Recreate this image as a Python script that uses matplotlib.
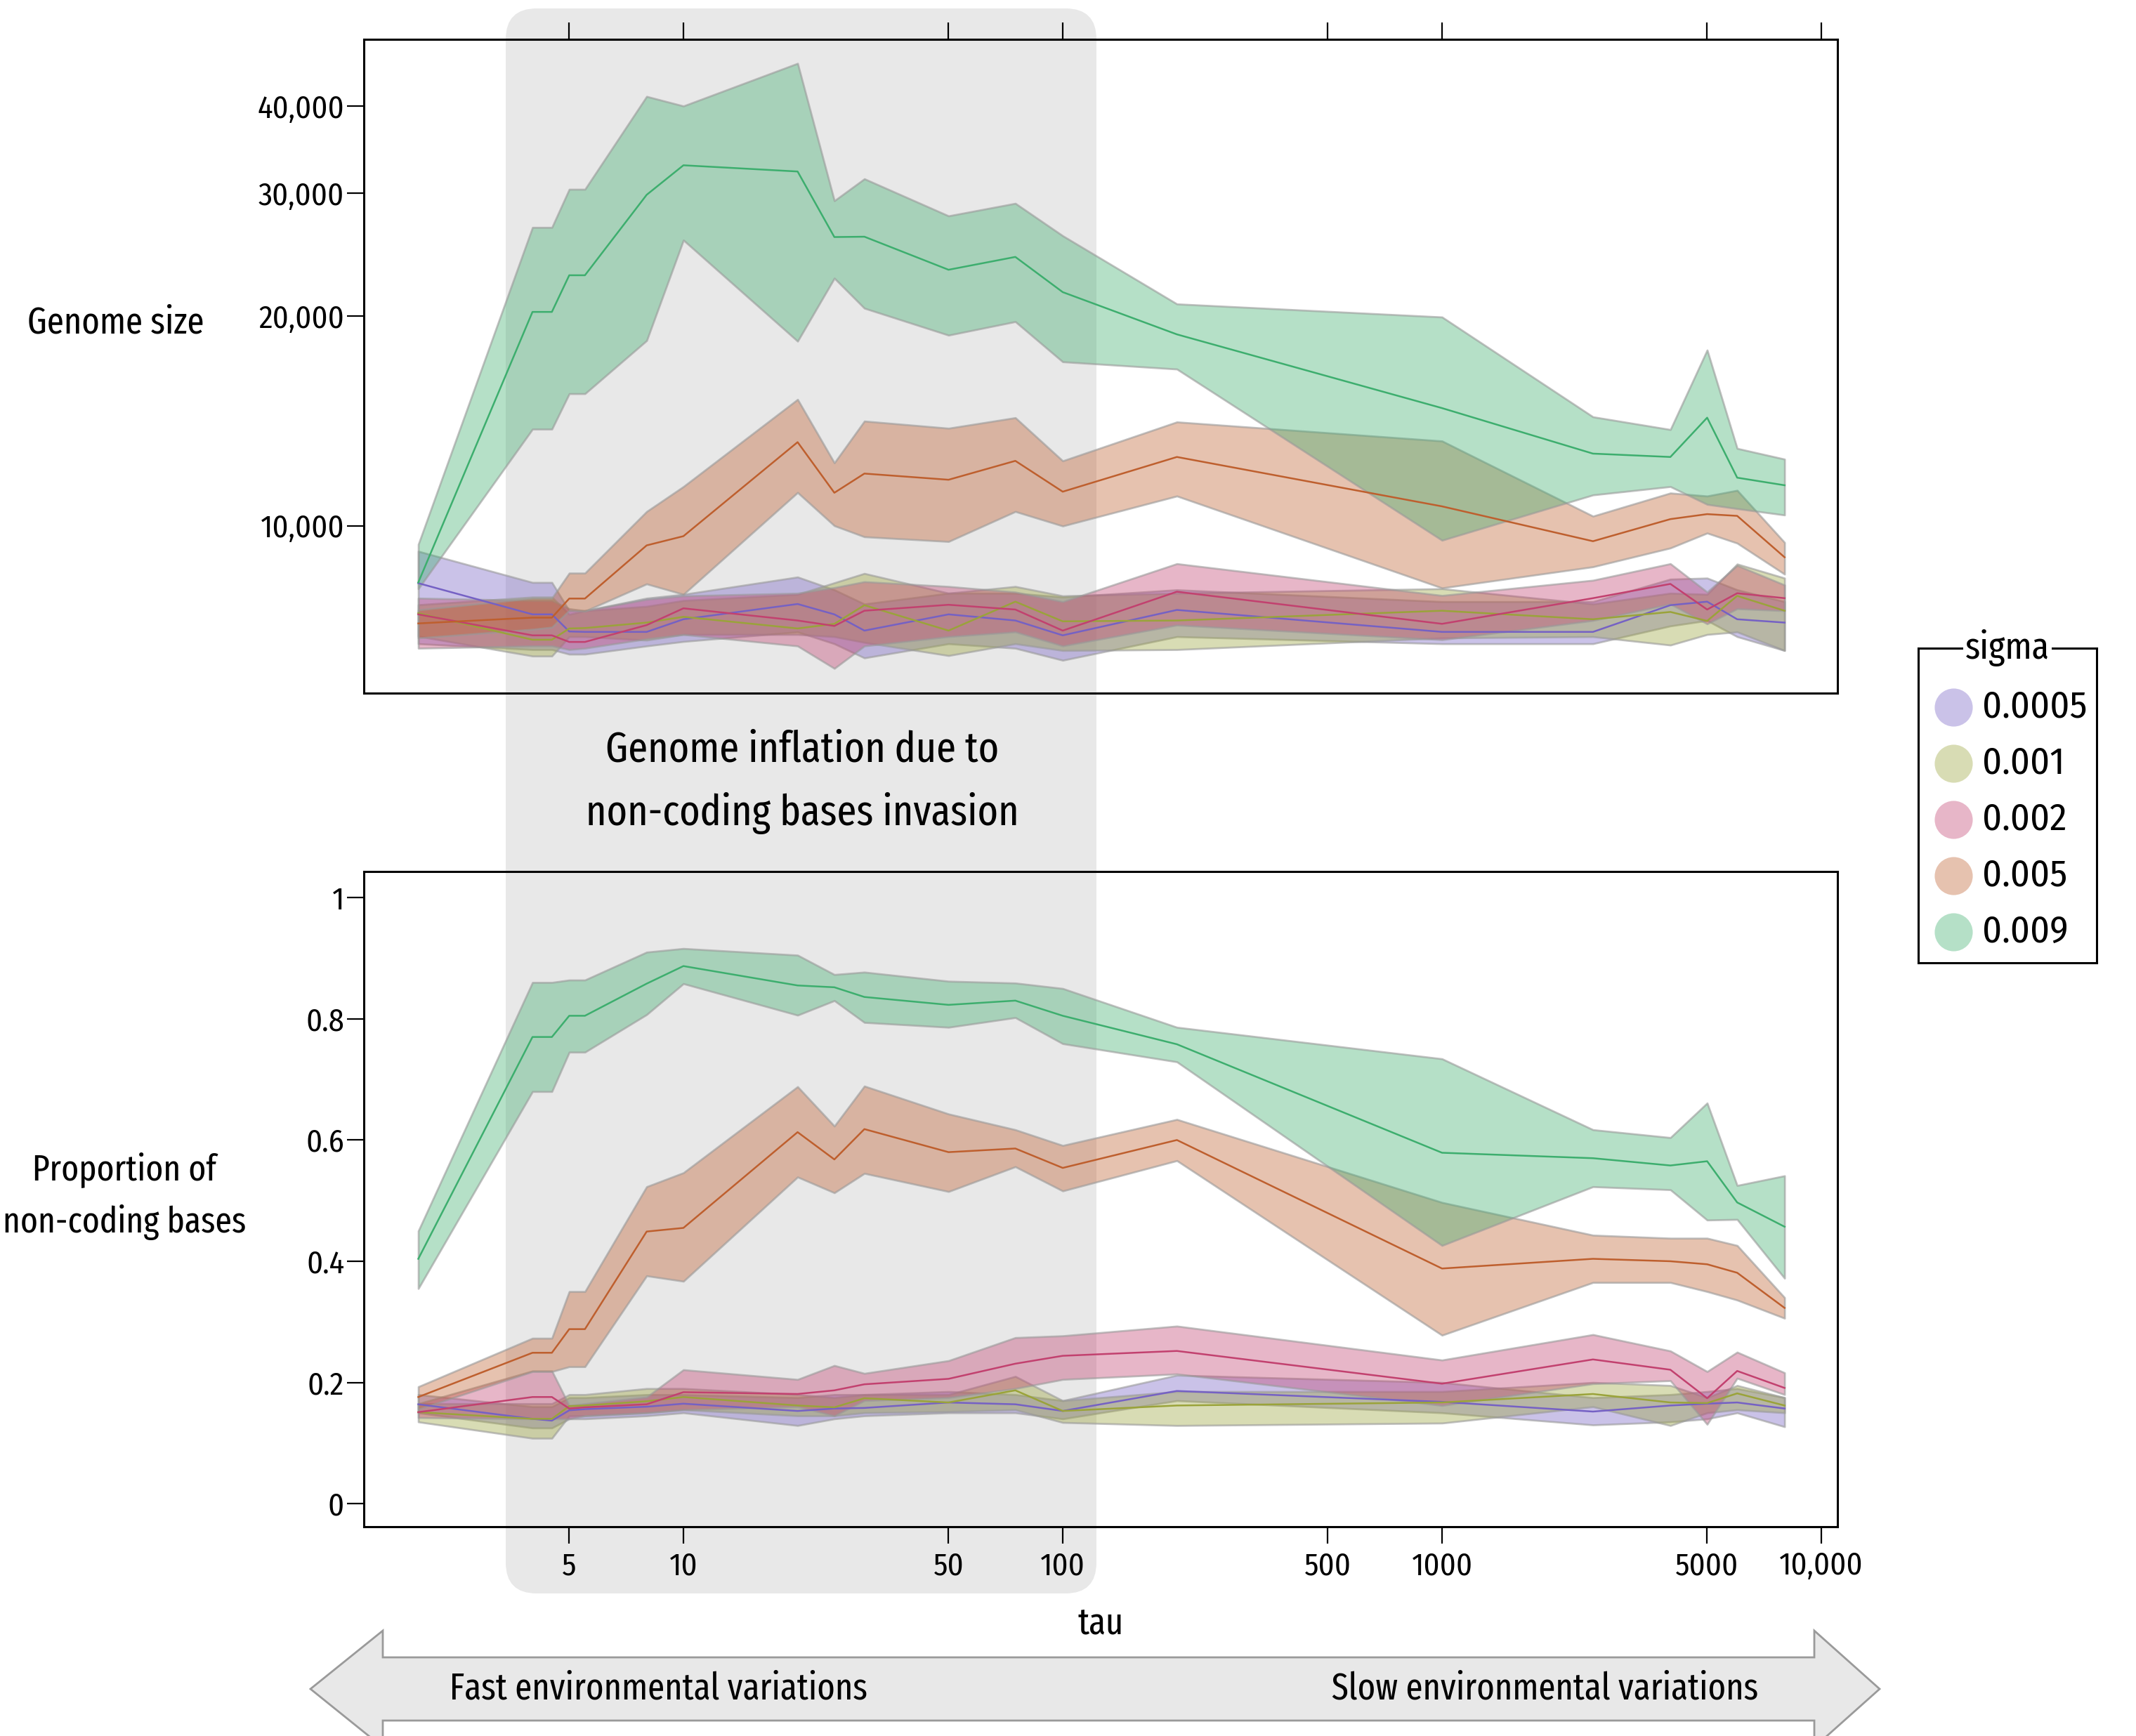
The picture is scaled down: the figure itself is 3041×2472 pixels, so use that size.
import matplotlib
matplotlib.use('Agg')
import matplotlib.pyplot as plt
from matplotlib import font_manager
from matplotlib.colors import to_rgba
from matplotlib.patches import FancyBboxPatch, Polygon
from matplotlib.ticker import FixedLocator, NullLocator

# pick condensed faces if they are there
available = {f.name for f in font_manager.fontManager.ttflist}
font = next(n for n in ['Fira Sans Condensed', 'Roboto Condensed',
                        'Liberation Sans Narrow', 'DejaVu Sans'] if n in available)
if 'Fira Sans Extra Condensed' in available:
    label_font, shrink = 'Fira Sans Extra Condensed', 1.0
else:
    label_font, shrink = font, 0.88
plt.rcParams['font.family'] = [font, 'DejaVu Sans']
LABEL = [label_font, 'DejaVu Sans']

# ---- data ----
tau = [2, 4, 4.5, 5, 5.5, 8, 10, 20, 25, 30, 50, 75, 100, 200, 1000, 2500, 4000, 5000, 6000, 8000]
sigmas = ['0.0005', '0.001', '0.002', '0.005', '0.009']
colors = ['#7561C4', '#9AA33A', '#C2416F', '#BE5F2E', '#3DAE6E']

size_0005 = [8270, 7460, 7460, 7050, 7040, 7040, 7340, 7720, 7460, 7070, 7460, 7310, 6960, 7570, 7040, 7040, 7690, 7780, 7340, 7260]
size_0005_lo = [6770, 6640, 6640, 6540, 6540, 6720, 6820, 7040, 6770, 6460, 6770, 6670, 6410, 6930, 6770, 6770, 7180, 7310, 6930, 6620]
size_0005_hi = [9190, 8290, 8290, 7550, 7550, 7870, 7970, 8440, 8090, 7720, 8000, 8000, 7900, 8090, 7780, 7780, 8380, 8410, 8090, 7780]
size_001 = [7490, 6860, 6860, 7120, 7130, 7260, 7400, 7120, 7230, 7690, 7070, 7780, 7290, 7310, 7550, 7340, 7520, 7300, 7930, 7550]
size_001_lo = [6940, 6500, 6500, 6930, 6930, 6850, 6980, 6980, 6930, 6800, 6510, 6770, 6620, 6640, 6900, 6930, 6740, 6980, 7040, 6620]
size_001_hi = [7700, 7900, 7900, 7460, 7550, 7660, 7810, 7970, 8280, 8540, 8000, 8180, 7930, 8000, 8120, 7720, 8000, 7970, 8810, 8410]
size_002 = [7460, 6960, 6960, 6810, 6810, 7200, 7610, 7310, 7180, 7550, 7700, 7580, 7070, 8040, 7230, 7870, 8250, 7580, 8000, 7870]
size_002_lo = [6670, 6720, 6720, 6640, 6670, 6880, 6980, 6720, 6240, 6720, 6930, 7040, 6720, 7200, 6860, 7310, 7720, 7230, 7600, 7550]
size_002_hi = [7870, 7810, 7810, 7600, 7550, 7840, 7930, 8000, 8150, 8310, 8180, 8030, 7780, 8820, 7940, 8350, 8820, 8030, 8770, 8220]
size_005 = [7240, 7380, 7380, 7860, 7860, 9370, 9660, 13180, 11150, 11880, 11640, 12390, 11190, 12550, 10660, 9500, 10220, 10390, 10330, 9010]
size_005_lo = [6900, 7100, 7150, 7560, 7540, 8250, 7970, 11160, 10000, 9640, 9490, 10480, 9990, 11030, 8140, 8730, 9290, 9760, 9440, 8520]
size_005_hi = [7570, 7870, 7870, 8550, 8550, 10480, 11380, 15180, 12310, 14130, 13800, 14290, 12390, 14090, 13230, 10320, 11140, 11030, 11240, 9460]
size_009 = [8290, 20270, 20270, 22880, 22880, 29850, 32910, 32240, 25960, 25990, 23300, 24310, 21640, 18820, 14750, 12690, 12550, 14290, 11720, 11430]
size_009_lo = [8120, 13760, 13760, 15470, 15470, 18440, 25700, 18400, 22660, 20520, 18770, 19630, 17190, 16780, 9530, 11070, 11380, 10730, 10580, 10360]
size_009_hi = [9400, 26800, 26800, 30400, 30400, 41320, 40030, 46090, 29270, 31470, 27840, 29020, 26070, 20810, 19930, 14330, 13740, 17870, 12910, 12460]

prop_0005 = [0.164, 0.140, 0.137, 0.154, 0.156, 0.160, 0.165, 0.153, 0.157, 0.158, 0.167, 0.164, 0.153, 0.186, 0.168, 0.152, 0.162, 0.165, 0.167, 0.157]
prop_0005_lo = [0.150, 0.125, 0.125, 0.140, 0.140, 0.145, 0.150, 0.129, 0.140, 0.145, 0.150, 0.150, 0.140, 0.170, 0.150, 0.130, 0.135, 0.140, 0.150, 0.127]
prop_0005_hi = [0.180, 0.160, 0.160, 0.175, 0.175, 0.180, 0.180, 0.175, 0.180, 0.180, 0.185, 0.180, 0.170, 0.212, 0.200, 0.175, 0.180, 0.185, 0.190, 0.175]
prop_001 = [0.151, 0.140, 0.140, 0.161, 0.162, 0.169, 0.176, 0.162, 0.159, 0.174, 0.167, 0.187, 0.153, 0.162, 0.167, 0.181, 0.167, 0.166, 0.182, 0.162]
prop_001_lo = [0.135, 0.108, 0.108, 0.145, 0.145, 0.150, 0.155, 0.145, 0.145, 0.150, 0.152, 0.155, 0.134, 0.129, 0.133, 0.160, 0.129, 0.150, 0.155, 0.150]
prop_001_hi = [0.165, 0.165, 0.165, 0.180, 0.180, 0.190, 0.190, 0.180, 0.175, 0.180, 0.180, 0.210, 0.170, 0.185, 0.185, 0.200, 0.195, 0.175, 0.195, 0.175]
prop_002 = [0.151, 0.176, 0.176, 0.157, 0.159, 0.164, 0.184, 0.181, 0.187, 0.197, 0.206, 0.231, 0.244, 0.252, 0.198, 0.238, 0.221, 0.174, 0.219, 0.191]
prop_002_lo = [0.142, 0.140, 0.140, 0.140, 0.145, 0.150, 0.155, 0.160, 0.145, 0.170, 0.175, 0.190, 0.205, 0.214, 0.162, 0.198, 0.203, 0.131, 0.207, 0.180]
prop_002_hi = [0.165, 0.219, 0.219, 0.162, 0.165, 0.176, 0.221, 0.205, 0.228, 0.215, 0.236, 0.274, 0.277, 0.293, 0.237, 0.279, 0.252, 0.218, 0.250, 0.216]
prop_005 = [0.176, 0.249, 0.249, 0.288, 0.288, 0.449, 0.455, 0.613, 0.568, 0.618, 0.580, 0.586, 0.554, 0.600, 0.388, 0.404, 0.400, 0.395, 0.381, 0.323]
prop_005_lo = [0.156, 0.218, 0.218, 0.226, 0.226, 0.376, 0.367, 0.539, 0.513, 0.545, 0.515, 0.556, 0.516, 0.566, 0.278, 0.365, 0.365, 0.350, 0.336, 0.306]
prop_005_hi = [0.193, 0.273, 0.273, 0.350, 0.350, 0.523, 0.546, 0.688, 0.623, 0.689, 0.643, 0.617, 0.591, 0.634, 0.497, 0.443, 0.438, 0.438, 0.426, 0.340]
prop_009 = [0.404, 0.770, 0.770, 0.805, 0.805, 0.858, 0.887, 0.855, 0.852, 0.836, 0.823, 0.830, 0.805, 0.758, 0.579, 0.570, 0.558, 0.565, 0.497, 0.457]
prop_009_lo = [0.355, 0.680, 0.680, 0.745, 0.745, 0.807, 0.858, 0.806, 0.830, 0.794, 0.786, 0.802, 0.759, 0.729, 0.426, 0.523, 0.518, 0.468, 0.469, 0.372]
prop_009_hi = [0.450, 0.860, 0.860, 0.864, 0.864, 0.910, 0.916, 0.905, 0.873, 0.877, 0.862, 0.859, 0.850, 0.786, 0.734, 0.617, 0.604, 0.661, 0.525, 0.541]

tau_ticks = [5, 10, 50, 100, 500, 1000, 5000, 10000]
tau_labels = ['5', '10', '50', '100', '500', '1000', '5000', '10,000']
size_ticks = [10000, 20000, 30000, 40000]
prop_ticks = [0, 0.2, 0.4, 0.6, 0.8, 1]
prop_labels = ['0', '0.2', '0.4', '0.6', '0.8', '1']

size_mean = [size_0005, size_001, size_002, size_005, size_009]
size_lo = [size_0005_lo, size_001_lo, size_002_lo, size_005_lo, size_009_lo]
size_hi = [size_0005_hi, size_001_hi, size_002_hi, size_005_hi, size_009_hi]
prop_mean = [prop_0005, prop_001, prop_002, prop_005, prop_009]
prop_lo = [prop_0005_lo, prop_001_lo, prop_002_lo, prop_005_lo, prop_009_lo]
prop_hi = [prop_0005_hi, prop_001_hi, prop_002_hi, prop_005_hi, prop_009_hi]

# ---- layout, in pixels of the final picture ----
W, H = 3041, 2472
DPI = 200


def box(left, top, right, bottom):
    return [left / W, 1 - bottom / H, (right - left) / W, (bottom - top) / H]


fig = plt.figure(figsize=(W / DPI, H / DPI), dpi=DPI)

# grey highlight behind both panels
band = FancyBboxPatch((720 / DPI, (H - 2269) / DPI), 841 / DPI, 2257 / DPI,
                      boxstyle='round,pad=0,rounding_size=0.22',
                      transform=fig.dpi_scale_trans, fc='#e8e8e8', ec='none', zorder=-1)
fig.add_artist(band)

ax1 = fig.add_axes(box(518, 56, 2616, 987))
ax2 = fig.add_axes(box(518, 1241, 2616, 2174))

edge = (0.6, 0.6, 0.6, 0.6)
for ax, mean, lo, hi in [(ax1, size_mean, size_lo, size_hi), (ax2, prop_mean, prop_lo, prop_hi)]:
    ax.set_facecolor('none')
    for i in range(len(sigmas)):
        ax.fill_between(tau, lo[i], hi[i], facecolor=to_rgba(colors[i], 0.38),
                        edgecolor=edge, linewidth=1.0)
        ax.plot(tau, mean[i], color=colors[i], lw=0.9)
    ax.set_xscale('log')
    ax.set_xlim(1.437, 11030)
    ax.xaxis.set_major_locator(FixedLocator(tau_ticks))
    ax.xaxis.set_minor_locator(NullLocator())
    ax.tick_params(length=8.5, width=0.8, direction='out', labelsize=16)
    for s in ax.spines.values():
        s.set_linewidth(1.1)

ax1.set_yscale('log')
ax1.set_ylim(5750, 49900)
ax1.yaxis.set_major_locator(FixedLocator(size_ticks))
ax1.yaxis.set_minor_locator(NullLocator())
ax1.set_yticklabels(['{:,}'.format(v) for v in size_ticks])
ax1.xaxis.tick_top()
ax1.tick_params(axis='x', labeltop=False)
ax1.tick_params(axis='y', pad=1.5)

ax2.set_ylim(-0.038, 1.043)
ax2.set_yticks(prop_ticks)
ax2.set_yticklabels(prop_labels)
ax2.set_xticklabels(tau_labels)
ax2.tick_params(axis='y', pad=1.5)
ax2.tick_params(axis='x', pad=4)

fs = 19 * shrink
fig.text(165 / W, 1 - 460 / H, 'Genome size', ha='center', va='center', fontsize=fs, family=LABEL)
fig.text(177 / W, 1 - 1703 / H, 'Proportion of\nnon-coding bases', ha='center', va='center',
         fontsize=fs * 0.98, linespacing=1.6, family=LABEL)
fig.text(1567 / W, 1 - 2312 / H, 'tau', ha='center', va='center', fontsize=fs, family=LABEL)
fig.text(1142 / W, 1 - 1113 / H, 'Genome inflation due to\nnon-coding bases invasion',
         ha='center', va='center', fontsize=22 * shrink, linespacing=1.65, family=LABEL)

# double arrow at the bottom
arrow_px = [(442, 2405), (545, 2322), (545, 2360), (2583, 2360), (2583, 2322), (2676, 2405),
            (2583, 2488), (2583, 2450), (545, 2450), (545, 2488)]
arrow = Polygon([(x / W, 1 - y / H) for x, y in arrow_px], closed=True,
                transform=fig.transFigure, fc='#e8e8e8', ec='#9a9a9a', lw=1.0, zorder=1)
fig.add_artist(arrow)
fig.text(937 / W, 1 - 2405 / H, 'Fast environmental variations', ha='center', va='center',
         fontsize=19 * shrink, family=LABEL)
fig.text(2200 / W, 1 - 2405 / H, 'Slow environmental variations', ha='center', va='center',
         fontsize=19 * shrink, family=LABEL)

# legend
axl = fig.add_axes(box(2731, 923, 2985, 1371))
axl.set_xlim(0, 254)
axl.set_ylim(448, 0)
axl.set_xticks([])
axl.set_yticks([])
for s in axl.spines.values():
    s.set_linewidth(1.1)
for i, sig in enumerate(sigmas):
    axl.scatter(50, 84 + 80 * i, s=380, color=to_rgba(colors[i], 0.38), linewidths=0)
    axl.text(91, 84 + 80 * i, sig, va='center', fontsize=19.5)
axl.text(127, 0, 'sigma', ha='center', va='center', fontsize=19.5 * shrink, clip_on=False,
         family=LABEL, bbox=dict(fc='white', ec='none', pad=1))

fig.savefig('out.png', dpi=DPI)
